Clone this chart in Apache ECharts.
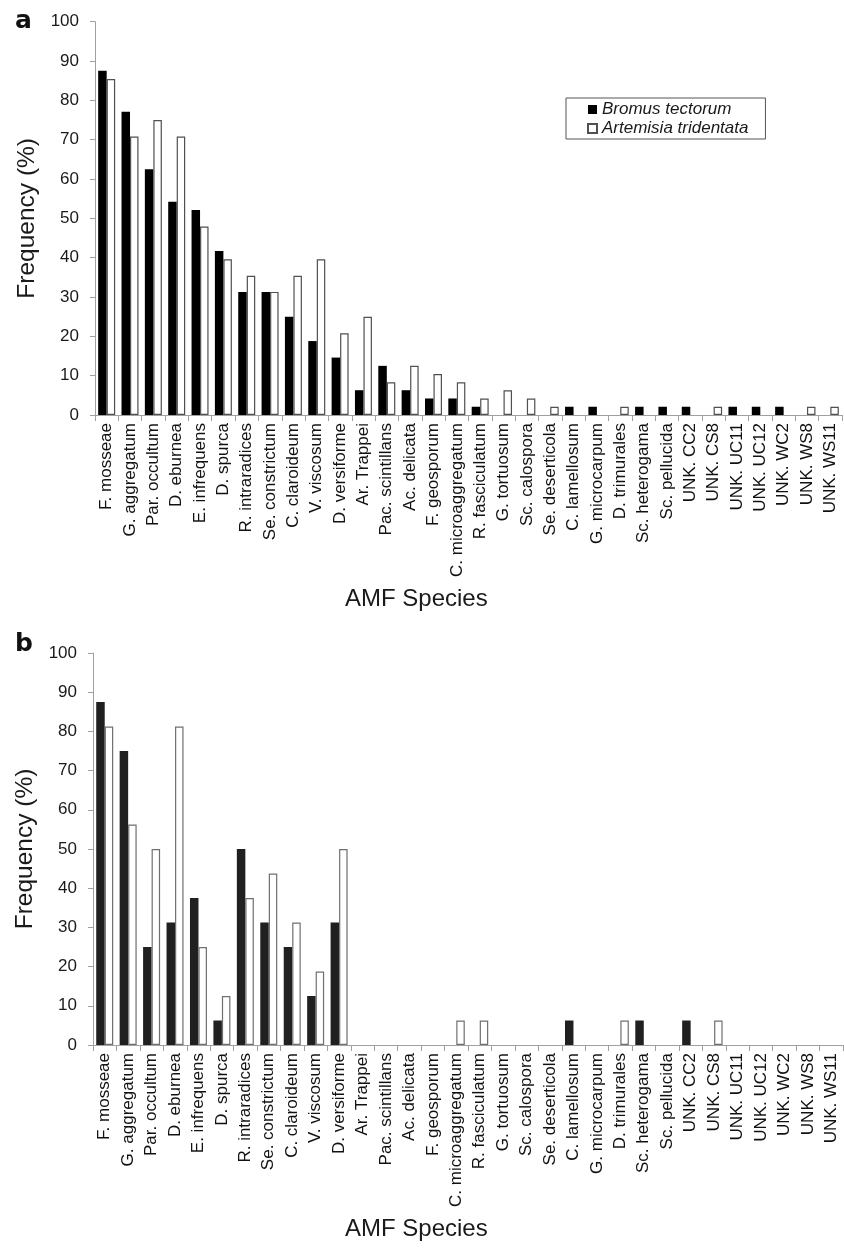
<!DOCTYPE html>
<html><head><meta charset="utf-8">
<script src="https://cdn.jsdelivr.net/npm/echarts@6/dist/echarts.min.js"></script>
<style>html,body{margin:0;padding:0;background:#fff}#c{width:844px;height:1248px}</style>
</head><body><div id="c"></div>
<script>
const species = ["F. mosseae","G. aggregatum","Par. occultum","D. eburnea","E. infrequens","D. spurca","R. intraradices","Se. constrictum","C. claroideum","V. viscosum","D. versiforme","Ar. Trappei","Pac. scintillans","Ac. delicata","F. geosporum","C. microaggregatum","R. fasciculatum","G. tortuosum","Sc. calospora","Se. deserticola","C. lamellosum","G. microcarpum","D. trimurales","Sc. heterogama","Sc. pellucida","UNK. CC2","UNK. CS8","UNK. UC11","UNK. UC12","UNK. WC2","UNK. WS8","UNK. WS11"];
const seriesNames = ["Bromus tectorum","Artemisia tridentata"];
// Panel a
const bromusA = [87.5,77.1,62.5,54.2,52.1,41.7,31.3,31.3,25.0,18.8,14.6,6.3,12.5,6.3,4.2,4.2,2.1,0,0,0,2.1,2.1,0,2.1,2.1,2.1,0,2.1,2.1,2.1,0,0];
const artemisiaA = [85.4,70.8,75.0,70.8,47.9,39.6,35.4,31.3,35.4,39.6,20.8,25.0,8.3,12.5,10.4,8.3,4.2,6.3,4.2,2.1,0,0,2.1,0,0,0,2.1,0,0,0,2.1,2.1];
// Panel b
const bromusB = [87.5,75,25,31.25,37.5,6.25,50,31.25,25,12.5,31.25,0,0,0,0,0,0,0,0,0,6.25,0,0,6.25,0,6.25,0,0,0,0,0,0];
const artemisiaB = [81.25,56.25,50,81.25,25,12.5,37.5,43.75,31.25,18.75,50,0,0,0,0,6.25,6.25,0,0,0,0,0,6.25,0,0,0,6.25,0,0,0,0,0];
const yMin = 0, yMax = 100, yStep = 10;
const panelLabels = ["a","b"];
const xTitle = "AMF Species";
const yTitle = "Frequency (%)";

const FONT = 'Arial, "Liberation Sans", sans-serif';
const chart = echarts.init(document.getElementById('c'), null, {renderer:'canvas'});
// zero-height bars are not drawn (no outline on the baseline)
const bars = arr => arr.map(v => v === 0 ? '-' : v);

function xAxisCfg(gi){
  return {
    type:'category', gridIndex:gi, data:species, boundaryGap:true,
    axisLine:{show:true, lineStyle:{color:'#a0a0a0', width:1}},
    axisTick:{show:true, length:6, alignWithLabel:false, lineStyle:{color:'#a0a0a0'}},
    axisLabel:{interval:0, rotate:90, margin:8, fontSize:17, color:'#111', fontFamily:FONT},
    splitLine:{show:false}
  };
}
function yAxisCfg(gi){
  return {
    type:'value', gridIndex:gi, min:yMin, max:yMax, interval:yStep,
    axisLine:{show:true, lineStyle:{color:'#a0a0a0', width:1}},
    axisTick:{show:true, length:5, lineStyle:{color:'#a0a0a0'}},
    axisLabel:{fontSize:17, color:'#1a1a1a', margin:16, fontFamily:FONT},
    splitLine:{show:false},
    name:yTitle, nameLocation:'middle', nameGap:54, nameRotate:90,
    nameTextStyle:{fontSize:24.5, color:'#1a1a1a', fontFamily:FONT}
  };
}

const option = {
  backgroundColor:'#fff',
  animation:false,
  grid:[
    {left:95, top:21.7, width:747, height:393.3},
    {left:93, top:653, width:750, height:392}
  ],
  xAxis:[xAxisCfg(0), xAxisCfg(1)],
  yAxis:[yAxisCfg(0), yAxisCfg(1)],
  legend:{
    data:seriesNames, orient:'vertical', left:566, top:98, icon:'rect',
    itemWidth:9, itemHeight:9, itemGap:0,
    padding:[2,17,1,21],
    borderColor:'#555', borderWidth:1,
    textStyle:{fontSize:17, fontStyle:'italic', color:'#1a1a1a', fontFamily:FONT, lineHeight:19},
    selectedMode:false
  },
  series:[
    {name:seriesNames[0], type:'bar', xAxisIndex:0, yAxisIndex:0, data:bars(bromusA), barWidth:8.5, barGap:'0%',
     itemStyle:{color:'#000', borderWidth:0}},
    {name:seriesNames[1], type:'bar', xAxisIndex:0, yAxisIndex:0, data:bars(artemisiaA), barWidth:8.5, barGap:'0%',
     itemStyle:{color:'#fff', borderColor:'#505050', borderWidth:1.2}},
    {name:seriesNames[0], type:'bar', xAxisIndex:1, yAxisIndex:1, data:bars(bromusB), barWidth:8.5, barGap:'0%',
     itemStyle:{color:'#202020', borderWidth:0}},
    {name:seriesNames[1], type:'bar', xAxisIndex:1, yAxisIndex:1, data:bars(artemisiaB), barWidth:8.5, barGap:'0%',
     itemStyle:{color:'#fff', borderColor:'#707070', borderWidth:1.2}}
  ],
  graphic:[
    {type:'text', x:15, y:9, style:{text:panelLabels[0], font:'bold 25px "DejaVu Sans", sans-serif', fill:'#111'}},
    {type:'text', x:15, y:632, style:{text:panelLabels[1], font:'bold 25px "DejaVu Sans", sans-serif', fill:'#111'}},
    {type:'text', x:345, y:599, style:{text:xTitle, font:'24px ' + FONT, fill:'#1a1a1a', textAlign:'left', textVerticalAlign:'middle'}},
    {type:'text', x:345, y:1229, style:{text:xTitle, font:'24px ' + FONT, fill:'#1a1a1a', textAlign:'left', textVerticalAlign:'middle'}}
  ]
};
chart.setOption(option);
</script>
</body></html>
